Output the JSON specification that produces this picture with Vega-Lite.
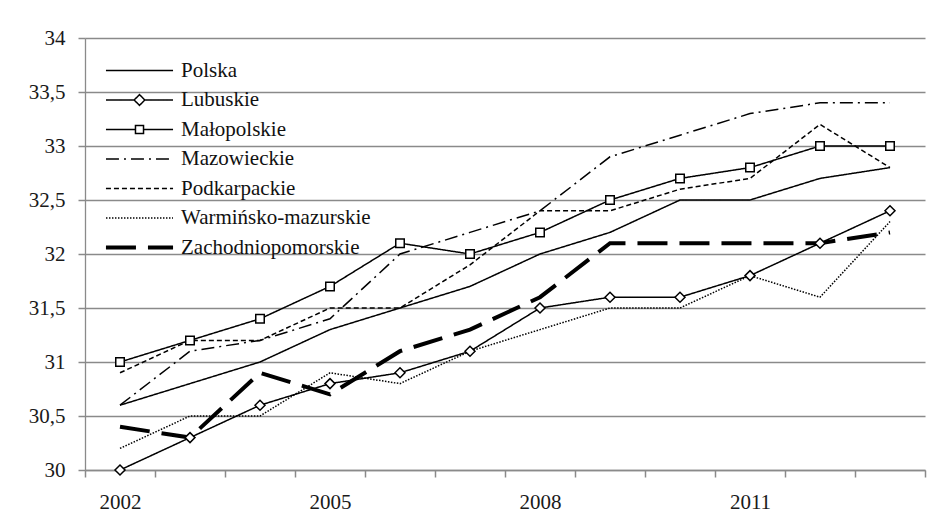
{
  "$schema": "https://vega.github.io/schema/vega-lite/v6.json",
  "autosize": {"type": "none"},
  "padding": {"left": 85, "top": 38, "right": 3, "bottom": 53},
  "width": 840,
  "height": 432,
  "background": "white",
  "config": {
    "view": {"stroke": null},
    "font": "Liberation Serif",
    "axis": {
      "labelFont": "Liberation Serif",
      "labelFontSize": 21,
      "labelColor": "#1a1a1a",
      "domainColor": "#8a8a8a",
      "domainWidth": 1.3,
      "tickColor": "#8a8a8a",
      "tickWidth": 1.5,
      "tickSize": 7,
      "ticks": true,
      "gridColor": "#8a8a8a",
      "gridWidth": 1.3,
      "gridOpacity": 1,
      "title": null
    },
    "legend": {
      "labelFont": "Liberation Serif",
      "labelFontSize": 21,
      "labelColor": "#111111",
      "labelLimit": 400
    }
  },
  "data": {
    "values": [
      {"year": 2002, "series": "Polska", "value": 30.6},
      {"year": 2003, "series": "Polska", "value": 30.8},
      {"year": 2004, "series": "Polska", "value": 31.0},
      {"year": 2005, "series": "Polska", "value": 31.3},
      {"year": 2006, "series": "Polska", "value": 31.5},
      {"year": 2007, "series": "Polska", "value": 31.7},
      {"year": 2008, "series": "Polska", "value": 32.0},
      {"year": 2009, "series": "Polska", "value": 32.2},
      {"year": 2010, "series": "Polska", "value": 32.5},
      {"year": 2011, "series": "Polska", "value": 32.5},
      {"year": 2012, "series": "Polska", "value": 32.7},
      {"year": 2013, "series": "Polska", "value": 32.8},
      {"year": 2002, "series": "Lubuskie", "value": 30.0},
      {"year": 2003, "series": "Lubuskie", "value": 30.3},
      {"year": 2004, "series": "Lubuskie", "value": 30.6},
      {"year": 2005, "series": "Lubuskie", "value": 30.8},
      {"year": 2006, "series": "Lubuskie", "value": 30.9},
      {"year": 2007, "series": "Lubuskie", "value": 31.1},
      {"year": 2008, "series": "Lubuskie", "value": 31.5},
      {"year": 2009, "series": "Lubuskie", "value": 31.6},
      {"year": 2010, "series": "Lubuskie", "value": 31.6},
      {"year": 2011, "series": "Lubuskie", "value": 31.8},
      {"year": 2012, "series": "Lubuskie", "value": 32.1},
      {"year": 2013, "series": "Lubuskie", "value": 32.4},
      {"year": 2002, "series": "Małopolskie", "value": 31.0},
      {"year": 2003, "series": "Małopolskie", "value": 31.2},
      {"year": 2004, "series": "Małopolskie", "value": 31.4},
      {"year": 2005, "series": "Małopolskie", "value": 31.7},
      {"year": 2006, "series": "Małopolskie", "value": 32.1},
      {"year": 2007, "series": "Małopolskie", "value": 32.0},
      {"year": 2008, "series": "Małopolskie", "value": 32.2},
      {"year": 2009, "series": "Małopolskie", "value": 32.5},
      {"year": 2010, "series": "Małopolskie", "value": 32.7},
      {"year": 2011, "series": "Małopolskie", "value": 32.8},
      {"year": 2012, "series": "Małopolskie", "value": 33.0},
      {"year": 2013, "series": "Małopolskie", "value": 33.0},
      {"year": 2002, "series": "Mazowieckie", "value": 30.6},
      {"year": 2003, "series": "Mazowieckie", "value": 31.1},
      {"year": 2004, "series": "Mazowieckie", "value": 31.2},
      {"year": 2005, "series": "Mazowieckie", "value": 31.4},
      {"year": 2006, "series": "Mazowieckie", "value": 32.0},
      {"year": 2007, "series": "Mazowieckie", "value": 32.2},
      {"year": 2008, "series": "Mazowieckie", "value": 32.4},
      {"year": 2009, "series": "Mazowieckie", "value": 32.9},
      {"year": 2010, "series": "Mazowieckie", "value": 33.1},
      {"year": 2011, "series": "Mazowieckie", "value": 33.3},
      {"year": 2012, "series": "Mazowieckie", "value": 33.4},
      {"year": 2013, "series": "Mazowieckie", "value": 33.4},
      {"year": 2002, "series": "Podkarpackie", "value": 30.9},
      {"year": 2003, "series": "Podkarpackie", "value": 31.2},
      {"year": 2004, "series": "Podkarpackie", "value": 31.2},
      {"year": 2005, "series": "Podkarpackie", "value": 31.5},
      {"year": 2006, "series": "Podkarpackie", "value": 31.5},
      {"year": 2007, "series": "Podkarpackie", "value": 31.9},
      {"year": 2008, "series": "Podkarpackie", "value": 32.4},
      {"year": 2009, "series": "Podkarpackie", "value": 32.4},
      {"year": 2010, "series": "Podkarpackie", "value": 32.6},
      {"year": 2011, "series": "Podkarpackie", "value": 32.7},
      {"year": 2012, "series": "Podkarpackie", "value": 33.2},
      {"year": 2013, "series": "Podkarpackie", "value": 32.8},
      {"year": 2002, "series": "Warmińsko-mazurskie", "value": 30.2},
      {"year": 2003, "series": "Warmińsko-mazurskie", "value": 30.5},
      {"year": 2004, "series": "Warmińsko-mazurskie", "value": 30.5},
      {"year": 2005, "series": "Warmińsko-mazurskie", "value": 30.9},
      {"year": 2006, "series": "Warmińsko-mazurskie", "value": 30.8},
      {"year": 2007, "series": "Warmińsko-mazurskie", "value": 31.1},
      {"year": 2008, "series": "Warmińsko-mazurskie", "value": 31.3},
      {"year": 2009, "series": "Warmińsko-mazurskie", "value": 31.5},
      {"year": 2010, "series": "Warmińsko-mazurskie", "value": 31.5},
      {"year": 2011, "series": "Warmińsko-mazurskie", "value": 31.8},
      {"year": 2012, "series": "Warmińsko-mazurskie", "value": 31.6},
      {"year": 2013, "series": "Warmińsko-mazurskie", "value": 32.3},
      {"year": 2002, "series": "Zachodniopomorskie", "value": 30.4},
      {"year": 2003, "series": "Zachodniopomorskie", "value": 30.3},
      {"year": 2004, "series": "Zachodniopomorskie", "value": 30.9},
      {"year": 2005, "series": "Zachodniopomorskie", "value": 30.7},
      {"year": 2006, "series": "Zachodniopomorskie", "value": 31.1},
      {"year": 2007, "series": "Zachodniopomorskie", "value": 31.3},
      {"year": 2008, "series": "Zachodniopomorskie", "value": 31.6},
      {"year": 2009, "series": "Zachodniopomorskie", "value": 32.1},
      {"year": 2010, "series": "Zachodniopomorskie", "value": 32.1},
      {"year": 2011, "series": "Zachodniopomorskie", "value": 32.1},
      {"year": 2012, "series": "Zachodniopomorskie", "value": 32.1},
      {"year": 2013, "series": "Zachodniopomorskie", "value": 32.2}
    ]
  },
  "resolve": {"axis": {"x": "independent"}},
  "encoding": {
    "y": {
      "field": "value",
      "type": "quantitative",
      "scale": {"domain": [30, 34], "nice": false, "zero": false},
      "axis": {
        "values": [30, 30.5, 31, 31.5, 32, 32.5, 33, 33.5, 34],
        "format": ".1~f",
        "labelPadding": 13,
        "labelExpr": "replace(datum.label, '.', ',')"
      }
    }
  },
  "layer": [
    {
      "mark": {"type": "line", "color": "black", "strokeCap": "butt", "strokeJoin": "miter"},
      "encoding": {
        "x": {
          "field": "year",
          "type": "quantitative",
          "scale": {"domain": [2001.5, 2013.5], "nice": false, "zero": false},
          "axis": {
            "orient": "bottom",
            "values": [2002, 2005, 2008, 2011],
            "format": "d",
            "grid": false,
            "domain": false,
            "ticks": true,
            "tickOpacity": 0,
            "labelPadding": 14
          }
        },
        "detail": {"field": "series"},
        "strokeDash": {
          "field": "series",
          "type": "nominal",
          "scale": {
            "domain": ["Polska", "Lubuskie", "Małopolskie", "Mazowieckie", "Podkarpackie", "Warmińsko-mazurskie", "Zachodniopomorskie"],
            "range": [[1, 0], [1, 0], [1, 0], [13, 5, 2, 5], [5, 3], [1.5, 1.5], [30, 12]]
          },
          "legend": {
            "title": null,
            "orient": "none",
            "legendX": 21,
            "legendY": 22,
            "padding": 0,
            "symbolSize": 4500,
            "labelOffset": 8,
            "rowPadding": 7.5,
            "symbolStrokeColor": "black",
            "encode": {
              "symbols": {
                "update": {
                  "x": {"value": 33.5},
                  "shape": {"signal": "datum.value === 'Lubuskie' ? 'M-1,0H-0.16M0.16,0H1M-0.16,0L0,-0.16L0.16,0L0,0.16Z' : (datum.value === 'Małopolskie' ? 'M-1,0H-0.12M0.12,0H1M-0.12,-0.12H0.12V0.12H-0.12Z' : 'M-1,0H1')"},
                  "strokeWidth": {"signal": "datum.value === 'Zachodniopomorskie' ? 4 : 1.5"},
                  "fill": {"value": "white"},
                  "stroke": {"value": "black"},
                  "opacity": {"value": 1}
                }
              },
              "labels": {
                "update": {
                  "x": {"value": 75}
                }
              }
            }
          }
        },
        "strokeWidth": {
          "condition": {"test": "datum.series === 'Zachodniopomorskie'", "value": 4},
          "value": 1.5
        }
      }
    },
    {
      "transform": [{"filter": "datum.series === 'Lubuskie' || datum.series === 'Małopolskie'"}],
      "mark": {"type": "point", "filled": false, "fill": "white", "stroke": "black", "strokeWidth": 1.5, "size": 100, "opacity": 1},
      "encoding": {
        "x": {
          "field": "year",
          "type": "quantitative",
          "axis": {
            "orient": "bottom",
            "values": [2001.5, 2002.5, 2003.5, 2004.5, 2005.5, 2006.5, 2007.5, 2008.5, 2009.5, 2010.5, 2011.5, 2012.5, 2013.5],
            "labels": false,
            "grid": false,
            "domain": true,
            "ticks": true
          }
        },
        "shape": {
          "field": "series",
          "type": "nominal",
          "scale": {
            "domain": ["Lubuskie", "Małopolskie"],
            "range": ["M-1,0L0,-1L1,0L0,1Z", "M-0.85,-0.85H0.85V0.85H-0.85Z"]
          },
          "legend": null
        }
      }
    }
  ]
}
